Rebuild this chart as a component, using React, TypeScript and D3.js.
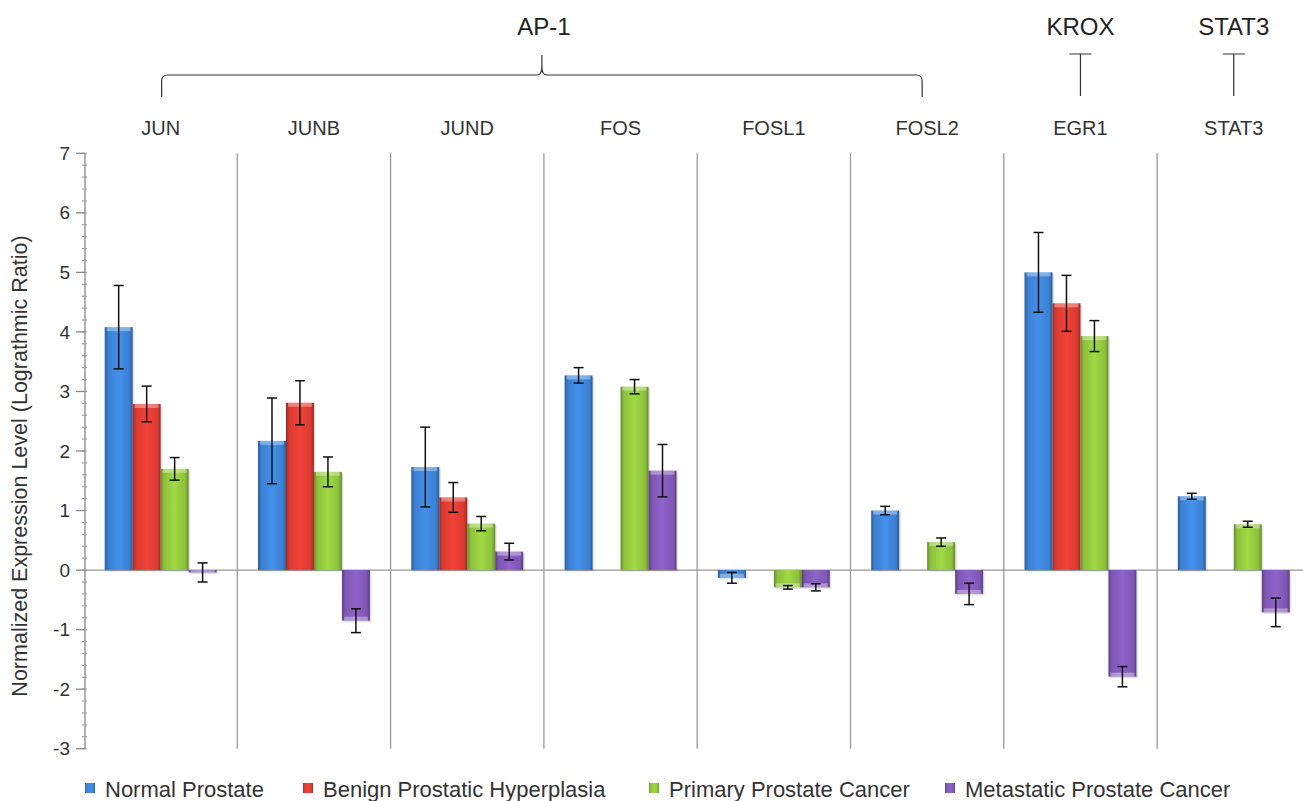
import React from "react";
import * as d3 from "d3";

const genes = ["JUN", "JUNB", "JUND", "FOS", "FOSL1", "FOSL2", "EGR1", "STAT3"];
const seriesNames = [
  "Normal Prostate",
  "Benign Prostatic Hyperplasia",
  "Primary Prostate Cancer",
  "Metastatic Prostate Cancer",
];
const seriesColors = ["#3b7fd0", "#d83a31", "#8dc03c", "#7e57b3"];

// values per gene, null = no bar
const normalVals = [4.08, 2.17, 1.73, 3.27, -0.13, 1.0, 5.0, 1.24];
const normalErr = [0.7, 0.72, 0.67, 0.13, 0.09, 0.07, 0.67, 0.05];
const benignVals = [2.79, 2.81, 1.22, null, null, null, 4.48, null];
const benignErr = [0.3, 0.37, 0.25, null, null, null, 0.47, null];
const primaryVals = [1.7, 1.65, 0.78, 3.08, -0.29, 0.47, 3.93, 0.77];
const primaryErr = [0.19, 0.25, 0.12, 0.12, 0.03, 0.07, 0.26, 0.05];
const metaVals = [-0.04, -0.85, 0.31, 1.67, -0.29, -0.4, -1.79, -0.71];
const metaErr = [0.16, 0.2, 0.14, 0.44, 0.06, 0.18, 0.17, 0.24];

const allVals = [normalVals, benignVals, primaryVals, metaVals];
const allErr = [normalErr, benignErr, primaryErr, metaErr];

const yTicks = [-3, -2, -1, 0, 1, 2, 3, 4, 5, 6, 7];

const families = [
  { name: "AP-1", from: "JUN", to: "FOSL2" },
  { name: "KROX", from: "EGR1", to: "EGR1" },
  { name: "STAT3", from: "STAT3", to: "STAT3" },
];

const legendStarts = [84, 302, 648, 944];

const FONT = "'Liberation Sans', Arial, sans-serif";

export default function App() {
  const width = 1303;
  const height = 801;
  const left = 84;
  const groupW = 153.3;

  const y = d3.scaleLinear().domain([-3, 7]).range([748.7, 153.3]);
  const x = d3
    .scaleBand<string>()
    .domain(genes)
    .range([left, left + groupW * genes.length]);
  const xs = d3
    .scaleBand<number>()
    .domain(d3.range(seriesNames.length))
    .range([0, x.bandwidth()])
    .paddingOuter(0.74);

  const minor = d3.range(-3, 7.0001, 0.2);

  // curly-ish bracket for AP-1
  const bracket = (x0: number, x1: number) => {
    const top = 75;
    const bottom = 97;
    const mid = (x0 + x1) / 2;
    const r = 6;
    return `M${x0},${bottom} L${x0},${top + r} Q${x0},${top} ${x0 + r},${top}
      L${mid - 5},${top} Q${mid},${top} ${mid},${top - 8} L${mid},${top - 20}
      M${mid},${top - 8} Q${mid},${top} ${mid + 5},${top}
      L${x1 - r},${top} Q${x1},${top} ${x1},${top + r} L${x1},${bottom}`;
  };

  return (
    <div style={{ position: "absolute", left: 0, top: 0 }}>
      <svg width={width} height={height} style={{ display: "block", background: "#fff" }}>
        <defs>
          {seriesColors.map((c, i) => {
            const dark = d3.color(c)!.darker(0.9).formatHex();
            const light = d3.color(c)!.brighter(0.35).formatHex();
            return (
              <linearGradient key={i} id={`g${i}`} x1="0" x2="1" y1="0" y2="0">
                <stop offset="0" stopColor={dark} />
                <stop offset="0.12" stopColor={c} />
                <stop offset="0.5" stopColor={light} />
                <stop offset="0.88" stopColor={c} />
                <stop offset="1" stopColor={dark} />
              </linearGradient>
            );
          })}
        </defs>

        {/* family labels */}
        {families.map((f) => {
          const x0 = x(f.from)! + x.bandwidth() / 2;
          const x1 = x(f.to)! + x.bandwidth() / 2;
          const mid = (x0 + x1) / 2;
          return (
            <g key={f.name}>
              <text
                x={mid}
                y={35}
                textAnchor="middle"
                fontFamily={FONT}
                fontSize={24}
                fill="#222"
              >
                {f.name}
              </text>
              {f.from === f.to ? (
                <path
                  d={`M${mid - 11},54 L${mid + 11},54 M${mid},54 L${mid},96`}
                  stroke="#333"
                  strokeWidth={1.2}
                  fill="none"
                />
              ) : (
                <path d={bracket(x0 + 1, x1 - 5)} stroke="#333" strokeWidth={1.2} fill="none" />
              )}
            </g>
          );
        })}

        {/* gene labels */}
        {genes.map((g) => (
          <text
            key={g}
            x={x(g)! + x.bandwidth() / 2}
            y={135}
            textAnchor="middle"
            fontFamily={FONT}
            fontSize={20}
            fill="#333"
          >
            {g}
          </text>
        ))}

        {/* separators */}
        {genes.slice(1).map((g) => (
          <line
            key={g}
            x1={x(g)}
            x2={x(g)}
            y1={y(7)}
            y2={y(-3)}
            stroke="#9a9a9a"
            strokeWidth={1.3}
          />
        ))}

        {/* zero line */}
        <line x1={left} x2={width} y1={y(0)} y2={y(0)} stroke="#999" strokeWidth={1.3} />

        {/* bars */}
        {genes.map((g, gi) => (
          <g key={g} transform={`translate(${x(g)},0)`}>
            {allVals.map((vals, si) => {
              const v = vals[gi];
              if (v == null) return null;
              const e = allErr[si][gi] ?? 0;
              const bx = xs(si)!;
              const bw = xs.bandwidth();
              const y0 = Math.min(y(0), y(v));
              const h = Math.abs(y(v) - y(0));
              const cx = bx + bw / 2;
              const capTop = v >= 0 ? y0 : y0 + h;
              return (
                <g key={si}>
                  <rect x={bx + 1.5} y={y0 + 1.5} width={bw} height={h} fill="#000" opacity={0.12} />
                  <rect x={bx} y={y0} width={bw} height={h} fill={`url(#g${si})`} />
                  <rect
                    x={bx + 2}
                    y={capTop + (v >= 0 ? 0 : -Math.min(4, h))}
                    width={bw - 4}
                    height={Math.min(4, h)}
                    fill="#fff"
                    opacity={0.35}
                  />
                  <line x1={cx} x2={cx} y1={y(v + e)} y2={y(v - e)} stroke="#111" strokeWidth={1.5} />
                  <line x1={cx - 5} x2={cx + 5} y1={y(v + e)} y2={y(v + e)} stroke="#111" strokeWidth={1.5} />
                  <line x1={cx - 5} x2={cx + 5} y1={y(v - e)} y2={y(v - e)} stroke="#111" strokeWidth={1.5} />
                </g>
              );
            })}
          </g>
        ))}

        {/* y axis */}
        <line x1={left + 1} x2={left + 1} y1={y(7)} y2={y(-3)} stroke="#888" strokeWidth={1.3} />
        {minor.map((t, i) => (
          <line key={i} x1={left - 2} x2={left + 3} y1={y(t)} y2={y(t)} stroke="#999" strokeWidth={1} />
        ))}
        {yTicks.map((t) => (
          <g key={t}>
            <line x1={left - 8} x2={left + 1} y1={y(t)} y2={y(t)} stroke="#888" strokeWidth={1.3} />
            <text
              x={left - 14}
              y={y(t)}
              dy="0.35em"
              textAnchor="end"
              fontFamily={FONT}
              fontSize={19}
              fill="#333"
            >
              {t}
            </text>
          </g>
        ))}
        <text
          transform={`translate(27,466) rotate(-90)`}
          textAnchor="middle"
          fontFamily={FONT}
          fontSize={21.5}
          fill="#333"
        >
          Normalized Expression Level (Lograthmic Ratio)
        </text>

        {/* legend */}
        {seriesNames.map((n, i) => (
          <g key={n} transform={`translate(${legendStarts[i]},797)`}>
            <rect x={1} y={-14} width={10} height={10} fill={`url(#g${i})`} />
            <text x={21} y={0} fontFamily={FONT} fontSize={22} fill="#333">
              {n}
            </text>
          </g>
        ))}
      </svg>
    </div>
  );
}
